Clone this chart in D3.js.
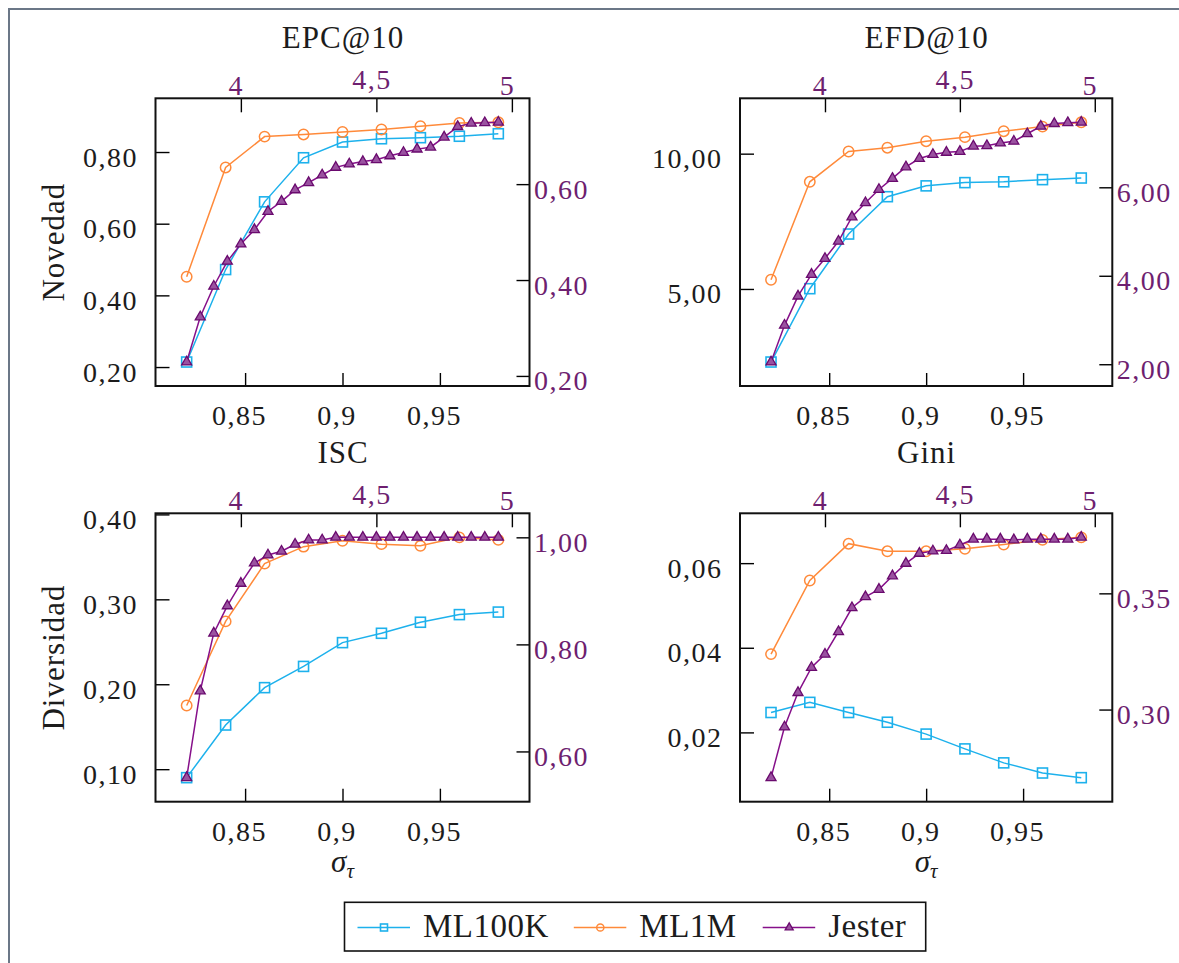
<!DOCTYPE html>
<html><head><meta charset="utf-8">
<script src="https://cdn.jsdelivr.net/npm/d3@7"></script>
<style>
body{margin:0;background:#fff}
svg{display:block}
</style>
</head><body>
<svg id="c" width="1179" height="963"></svg>
<script>
// ---------------- data ----------------
const seriesNames = ["ML100K", "ML1M", "Jester"];
const sigmaML = [0.82, 0.84, 0.86, 0.88, 0.90, 0.92, 0.94, 0.96, 0.98];
const sigmaJester = [3.80, 3.85, 3.90, 3.95, 4.00, 4.05, 4.10, 4.15, 4.20, 4.25, 4.30, 4.35,
                     4.40, 4.45, 4.50, 4.55, 4.60, 4.65, 4.70, 4.75, 4.80, 4.85, 4.90, 4.95];

const ml100kEPC = [0.214, 0.472, 0.661, 0.784, 0.828, 0.837, 0.840, 0.844, 0.851];
const ml1mEPC   = [0.452, 0.757, 0.843, 0.849, 0.856, 0.863, 0.872, 0.881, 0.883];
const jesterEPC = [0.229, 0.323, 0.387, 0.439, 0.475, 0.505, 0.543, 0.564, 0.588, 0.603, 0.619, 0.635,
                   0.642, 0.647, 0.651, 0.659, 0.666, 0.673, 0.677, 0.698, 0.720, 0.727, 0.728, 0.729];

const ml100kEFD = [2.30, 5.01, 7.03, 8.41, 8.81, 8.93, 8.96, 9.04, 9.10];
const ml1mEFD   = [5.34, 8.96, 10.08, 10.22, 10.46, 10.61, 10.83, 11.00, 11.16];
const jesterEFD = [2.05, 2.88, 3.54, 4.03, 4.39, 4.78, 5.33, 5.65, 5.95, 6.20, 6.46, 6.65,
                   6.74, 6.79, 6.81, 6.93, 6.94, 7.00, 7.04, 7.21, 7.38, 7.44, 7.46, 7.47];

const ml100kISC = [0.090, 0.152, 0.196, 0.221, 0.249, 0.260, 0.273, 0.282, 0.285];
const ml1mISC   = [0.175, 0.274, 0.342, 0.362, 0.369, 0.365, 0.363, 0.373, 0.370];
const jesterISC = [0.551, 0.713, 0.821, 0.872, 0.914, 0.952, 0.967, 0.974, 0.987, 0.995, 0.995, 1.000,
                   1.000, 1.000, 1.000, 1.000, 1.000, 1.000, 1.000, 1.000, 1.000, 1.000, 1.000, 1.000];

const ml100kGini = [0.0247, 0.0271, 0.0247, 0.0224, 0.0196, 0.0161, 0.0128, 0.0104, 0.0093];
const ml1mGini   = [0.0385, 0.0559, 0.0646, 0.0628, 0.0628, 0.0634, 0.0644, 0.0655, 0.0661];
const jesterGini = [0.2707, 0.2925, 0.3073, 0.3181, 0.3238, 0.3335, 0.3438, 0.3485, 0.3517, 0.3575, 0.3629, 0.3672,
                    0.3682, 0.3684, 0.3708, 0.3733, 0.3733, 0.3733, 0.3730, 0.3733, 0.3733, 0.3733, 0.3733, 0.3741];

// tick labels
const mlTicks = [0.85, 0.9, 0.95];
const jesterTicks = [4, 4.5, 5];
const epcLeftTicks = [0.2, 0.4, 0.6, 0.8];
const epcRightTicks = [0.2, 0.4, 0.6];
const efdLeftTicks = [5, 10];
const efdRightTicks = [2, 4, 6];
const iscLeftTicks = [0.1, 0.2, 0.3, 0.4];
const iscRightTicks = [0.6, 0.8, 1.0];
const giniLeftTicks = [0.02, 0.04, 0.06];
const giniRightTicks = [0.30, 0.35];

// ---------------- style ----------------
const FONT = '"Liberation Serif", "Tinos", "Times New Roman", "DejaVu Serif", serif';
const colors = {ML100K: "#1db1ec", ML1M: "#ff8a3a", Jester: "#86108a"};
const darkText = "#1c1c1c";
const purpleText = "#6e1f70";

const svg = d3.select("#c").style("font-family", FONT);
svg.append("rect").attr("width", 1179).attr("height", 963).attr("fill", "#fff");
svg.append("rect").attr("x", 9).attr("y", 9).attr("width", 1300).attr("height", 1100)
  .attr("fill", "none").attr("stroke", "#6b7787").attr("stroke-width", 2);

const comma = d => String(+d.toFixed(4)).replace(".", ",");
const two = d => d.toFixed(2).replace(".", ",");
const pad = ext => { const r = ext[1] - ext[0]; return [ext[0] - 0.1 * r, ext[1] + 0.1 * r]; };

const panels = [
  {title: "EPC@10", a: ml100kEPC, b: ml1mEPC, j: jesterEPC, lt: epcLeftTicks, rt: epcRightTicks,
   ylabel: "Novedad", xlabel: false, x: 155.5, y: 98.3, w: 374, h: 287.7},
  {title: "EFD@10", a: ml100kEFD, b: ml1mEFD, j: jesterEFD, lt: efdLeftTicks, rt: efdRightTicks,
   ylabel: null, xlabel: false, x: 740, y: 98.3, w: 372.3, h: 287.7},
  {title: "ISC", a: ml100kISC, b: ml1mISC, j: jesterISC, lt: iscLeftTicks, rt: iscRightTicks,
   ylabel: "Diversidad", xlabel: true, x: 155.5, y: 513.3, w: 374, h: 288.4},
  {title: "Gini", a: ml100kGini, b: ml1mGini, j: jesterGini, lt: giniLeftTicks, rt: giniRightTicks,
   ylabel: null, xlabel: true, x: 740, y: 513.3, w: 372.3, h: 288.4}
];

function tri(s) {
  const h = s * 0.866;
  return `M0,${-2 * h / 3}L${s / 2},${h / 3}L${-s / 2},${h / 3}Z`;
}

function drawMarker(g, kind, cx, cy, big) {
  if (kind === "ML100K") {
    const s = big ? 10 : 7;
    g.append("rect").attr("x", cx - s / 2).attr("y", cy - s / 2).attr("width", s).attr("height", s)
      .attr("fill", "none").attr("stroke", colors.ML100K).attr("stroke-width", 1.6);
  } else if (kind === "ML1M") {
    g.append("circle").attr("cx", cx).attr("cy", cy).attr("r", big ? 5.2 : 3.6)
      .attr("fill", "none").attr("stroke", colors.ML1M).attr("stroke-width", 1.5);
  } else {
    g.append("path").attr("d", tri(big ? 10 : 8)).attr("transform", `translate(${cx},${cy})`)
      .attr("fill", "#9a52a0").attr("stroke", "#6a0a6e").attr("stroke-width", 1.3);
  }
}

function styleAxis(sel, color, size) {
  sel.select(".domain").remove();
  sel.attr("font-size", null).attr("font-family", null);
  sel.selectAll(".tick line").attr("stroke", "#000").attr("stroke-width", 1.4);
  sel.selectAll("text").style("font-family", FONT)
    .style("font-size", size + "px").style("letter-spacing", "1.5px").attr("fill", color);
}

panels.forEach(p => {
  const g = svg.append("g");
  const xML = d3.scaleLinear().domain(pad(d3.extent(sigmaML))).range([p.x, p.x + p.w]);
  const xJ = d3.scaleLinear().domain(pad(d3.extent(sigmaJester))).range([p.x, p.x + p.w]);
  const yL = d3.scaleLinear().domain(pad(d3.extent(p.a.concat(p.b)))).range([p.y + p.h, p.y]);
  const yR = d3.scaleLinear().domain(pad(d3.extent(p.j))).range([p.y + p.h, p.y]);

  // axes
  const ab = g.append("g").attr("transform", `translate(0,${p.y + p.h})`)
    .call(d3.axisBottom(xML).tickValues(mlTicks).tickSizeInner(-13).tickSizeOuter(0).tickFormat(comma));
  styleAxis(ab, darkText, 28);
  ab.selectAll("text").attr("y", 39).attr("dy", null).attr("x", -6);

  const at = g.append("g").attr("transform", `translate(0,${p.y})`)
    .call(d3.axisTop(xJ).tickValues(jesterTicks).tickSizeInner(-14).tickSizeOuter(0).tickFormat(comma));
  styleAxis(at, purpleText, 28);
  at.selectAll("text").attr("y", d => comma(d).includes(",") ? -9 : -3).attr("dy", null).attr("x", -5);

  const al = g.append("g").attr("transform", `translate(${p.x},0)`)
    .call(d3.axisLeft(yL).tickValues(p.lt).tickSizeInner(-14).tickSizeOuter(0).tickFormat(two));
  styleAxis(al, darkText, 28);
  al.selectAll("text").attr("x", -17.5).attr("y", 14).attr("dy", null);

  const ar = g.append("g").attr("transform", `translate(${p.x + p.w},0)`)
    .call(d3.axisRight(yR).tickValues(p.rt).tickSizeInner(-13).tickSizeOuter(0).tickFormat(two));
  styleAxis(ar, purpleText, 28);
  ar.selectAll("text").attr("x", 4.5).attr("y", 14).attr("dy", null);

  // series
  const series = [
    {name: "ML100K", xs: sigmaML, ys: p.a, x: xML, y: yL},
    {name: "ML1M", xs: sigmaML, ys: p.b, x: xML, y: yL},
    {name: "Jester", xs: sigmaJester, ys: p.j, x: xJ, y: yR}
  ];
  series.forEach(s => {
    const pts = s.ys.map((v, i) => [s.x(s.xs[i]), s.y(v)]);
    g.append("path").attr("d", d3.line()(pts)).attr("fill", "none")
      .attr("stroke", colors[s.name]).attr("stroke-width", 1.5);
    const mg = g.append("g");
    pts.forEach(pt => drawMarker(mg, s.name, pt[0], pt[1], true));
  });

  // frame
  g.append("rect").attr("x", p.x).attr("y", p.y).attr("width", p.w).attr("height", p.h)
    .attr("fill", "none").attr("stroke", "#111").attr("stroke-width", 2);

  // title
  g.append("text").attr("x", p.x + p.w / 2 + 0.5).attr("y", p.y - 50).attr("text-anchor", "middle")
    .style("font-size", "31px").style("letter-spacing", "1px").attr("fill", darkText).text(p.title);

  if (p.ylabel) {
    g.append("text").attr("transform", `translate(64,${p.y + p.h / 2}) rotate(-90)`)
      .attr("text-anchor", "middle").style("font-size", "31px").style("letter-spacing", "1px")
      .attr("fill", darkText).text(p.ylabel);
  }
  if (p.xlabel) {
    const t = g.append("text").attr("x", p.x + p.w / 2).attr("y", p.y + p.h + 70)
      .attr("text-anchor", "middle").attr("fill", darkText).style("font-style", "italic");
    t.append("tspan").style("font-size", "31px").text("σ");
    t.append("tspan").style("font-size", "21px").attr("dy", 6).text("τ");
  }
});

// legend
const lg = svg.append("g");
lg.append("rect").attr("x", 344.5).attr("y", 902.3).attr("width", 581.2).attr("height", 48.7)
  .attr("fill", "#fff").attr("stroke", "#111").attr("stroke-width", 1.6);
const legendX = [357.5, 573.8, 762.7];
seriesNames.forEach((n, i) => {
  const x0 = legendX[i];
  lg.append("line").attr("x1", x0).attr("x2", x0 + 52.5).attr("y1", 927.5).attr("y2", 927.5)
    .attr("stroke", colors[n]).attr("stroke-width", 1.6);
  drawMarker(lg, n, x0 + 26.5, 927.5, false);
  lg.append("text").attr("x", x0 + 65.5).attr("y", 936.7).style("font-size", "33px")
    .style("letter-spacing", "0.5px").attr("fill", darkText).text(n);
});
</script>
</body></html>
